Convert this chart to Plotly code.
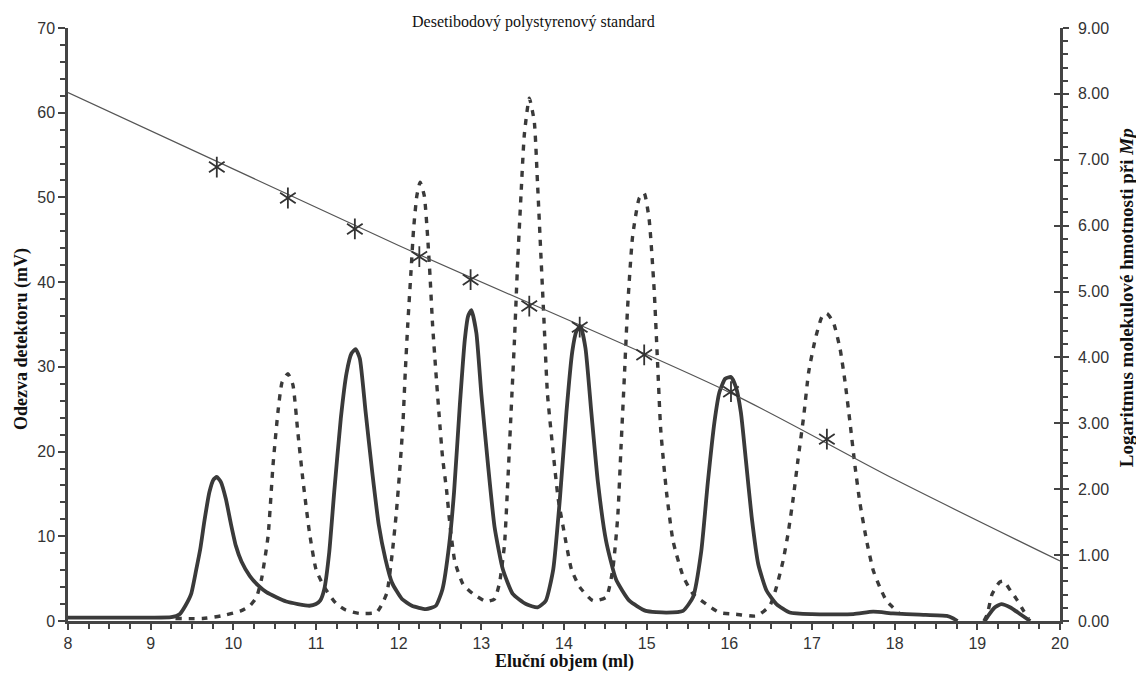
import plotly.graph_objects as go

# Chromatogram of the first half of the ten-point polystyrene standard (solid trace)
solid_ml = [8.0, 8.5, 9.0, 9.25, 9.35, 9.42, 9.49, 9.55, 9.6, 9.65, 9.71, 9.76, 9.8, 9.85,
            9.91, 9.97, 10.03, 10.1, 10.2, 10.3, 10.4, 10.52, 10.64, 10.78, 10.92, 11.0,
            11.05, 11.1, 11.16, 11.22, 11.3, 11.37, 11.43, 11.48, 11.53, 11.6, 11.68, 11.76, 11.84,
            11.92, 12.04, 12.16, 12.33, 12.45, 12.53, 12.61, 12.67, 12.74, 12.8, 12.84, 12.88, 12.94,
            13.0, 13.08, 13.16, 13.26, 13.38, 13.54, 13.68, 13.78, 13.87, 13.95, 14.03, 14.1,
            14.15, 14.2, 14.26, 14.33, 14.41, 14.51, 14.63, 14.79, 14.99, 15.24, 15.44, 15.56, 15.66,
            15.74, 15.82, 15.88, 15.95, 16.02, 16.08, 16.14, 16.2, 16.27, 16.35, 16.45, 16.57, 16.73, 17.0,
            17.5, 17.74, 17.98, 18.3, 18.63, 18.71, 18.76,
            None,
            19.09, 19.13, 19.21, 19.29, 19.4, 19.52, 19.64]
solid_mv = [0.4, 0.4, 0.4, 0.45, 0.8, 1.8, 3.2, 6.0, 8.5, 11.8, 15.2, 16.7, 17.0, 16.4,
            14.4, 11.5, 8.9, 7.0, 5.3, 4.2, 3.4, 2.8, 2.3, 2.0, 1.8, 2.0,
            2.4, 3.75, 8.1, 15.2, 23.9, 29.3, 31.6, 32.1, 31.0, 24.7, 17.6, 11.3, 7.3,
            4.5, 2.6, 1.8, 1.4, 1.8, 3.75, 8.9, 15.2, 25.5, 33.2, 36.0, 36.7, 34.0,
            26.8, 18.5, 11.1, 6.1, 3.2, 2.0, 1.6, 2.4, 6.1, 14.4, 24.7, 31.8,
            34.2, 34.8, 32.2, 24.7, 16.4, 9.4, 4.9, 2.4, 1.2, 1.0, 1.2, 2.8, 8.2,
            16.4, 23.5, 27.0, 28.6, 28.8, 27.6, 24.6, 19.0, 12.3, 6.7, 3.6, 2.0, 1.0, 0.8,
            0.8, 1.1, 0.9, 0.75, 0.6, 0.3, 0.0,
            None,
            0.0, 0.6, 1.6, 2.0, 1.6, 0.8, 0.0]

# Chromatogram of the second half of the standard (dashed trace)
dashed_ml = [9.3, 9.63, 9.85, 10.09, 10.2, 10.28, 10.34, 10.42, 10.48, 10.54, 10.59, 10.66,
             10.72, 10.78, 10.84, 10.92, 11.0, 11.1, 11.24, 11.36, 11.52, 11.73, 11.8, 11.86,
             11.92, 11.97, 12.01, 12.05, 12.08, 12.11, 12.15, 12.18, 12.22, 12.26, 12.31, 12.35,
             12.38, 12.41, 12.45, 12.49, 12.53, 12.58, 12.62, 12.68, 12.78, 12.9, 13.06, 13.16,
             13.22, 13.28, 13.32, 13.36, 13.4, 13.44, 13.48, 13.52, 13.58, 13.64, 13.68, 13.72,
             13.76, 13.8, 13.87, 13.93, 13.99, 14.09, 14.19, 14.35, 14.51, 14.59, 14.65, 14.69,
             14.73, 14.77, 14.83, 14.91, 14.97, 15.03, 15.09, 15.13, 15.17, 15.24, 15.32, 15.44,
             15.56, 15.72, 15.88, 16.08, 16.33, 16.49, 16.57, 16.65, 16.71, 16.77, 16.83, 16.9,
             16.96, 17.04, 17.12, 17.18, 17.26, 17.34, 17.4, 17.46, 17.52, 17.58, 17.66, 17.74,
             17.82, 17.9, 17.98, 18.05,
             None,
             19.08, 19.12, 19.18, 19.27, 19.32, 19.4, 19.48, 19.56, 19.62]
dashed_mv = [0.3, 0.3, 0.6, 1.2, 1.8, 2.8, 4.9, 10.0, 18.4, 24.7, 28.2, 29.2,
             27.9, 22.3, 16.8, 10.5, 6.1, 4.0, 2.1, 1.3, 0.9, 1.0, 2.0, 3.4,
             7.8, 12.6, 17.4, 23.0, 29.4, 35.0, 41.4, 46.2, 50.2, 51.8, 50.2, 45.4,
             40.6, 35.0, 29.4, 24.2, 19.4, 15.4, 11.4, 7.0, 4.3, 3.2, 2.3, 2.6,
             4.5, 9.0, 16.4, 24.7, 33.0, 42.5, 50.3, 57.4, 61.7, 59.0, 51.6, 43.3,
             35.0, 26.8, 19.8, 14.4, 11.1, 6.1, 4.0, 2.4, 2.8, 6.1, 12.3, 20.6,
             28.8, 37.1, 45.4, 49.9, 50.5, 47.4, 39.2, 30.9, 22.6, 15.2, 9.4, 5.3,
             3.2, 2.0, 1.0, 0.8, 0.6, 1.8, 4.0, 7.1, 10.3, 14.3, 19.0, 24.2,
             29.4, 33.3, 35.9, 36.3, 35.2, 32.1, 28.2, 23.4, 18.3, 13.9, 9.5, 6.0,
             4.0, 2.4, 1.6, 1.0,
             None,
             0.0, 0.8, 3.2, 4.6, 4.7, 3.6, 2.5, 1.2, 0.3]

# Peak elution volumes of the ten standards and their log Mp
standard_ml = [9.80, 10.66, 11.47, 12.25, 12.87, 13.58, 14.19, 14.97, 16.02, 17.18]
standard_logmp = [6.89, 6.42, 5.95, 5.53, 5.18, 4.78, 4.46, 4.04, 3.48, 2.76]

# Calibration curve (log Mp vs. elution volume)
fit_ml = [8.0, 12.0, 16.0, 18.0, 20.0]
fit_logmp = [8.02, 5.70, 3.47, 2.15, 0.91]

title_text = "Desetibodový polystyrenový standard"
x_title = "Eluční objem (ml)"
y_title = "Odezva detektoru (mV)"
y2_title = "Logaritmus molekulové hmotnosti při <i>Mp</i>"

INK = "#3a3a3a"
AXIS = "#444444"
SANS = "Liberation Sans, Arial, sans-serif"
SERIF = "Liberation Serif, Times New Roman, serif"

fig = go.Figure()

fig.add_trace(go.Scatter(
    x=fit_ml, y=fit_logmp, yaxis="y2", mode="lines",
    line=dict(color="#555555", width=1.2, shape="spline", smoothing=0.8),
    hoverinfo="skip", showlegend=False))

fig.add_trace(go.Scatter(
    x=dashed_ml, y=dashed_mv, mode="lines", connectgaps=False,
    line=dict(color=INK, width=3.4, dash="6px,7px", shape="spline", smoothing=0.5),
    showlegend=False))

fig.add_trace(go.Scatter(
    x=solid_ml, y=solid_mv, mode="lines", connectgaps=False,
    line=dict(color=INK, width=3.8, shape="spline", smoothing=0.5),
    showlegend=False))

# six-armed asterisk built from two opposing "y" symbols
for sym in ("y-up-open", "y-down-open"):
    fig.add_trace(go.Scatter(
        x=standard_ml, y=standard_logmp, yaxis="y2", mode="markers",
        marker=dict(symbol=sym, size=13, color="#333333",
                    line=dict(color="#333333", width=1.8)),
        showlegend=False))

tickfont = dict(family=SANS, size=16, color="#333333")

fig.update_layout(
    width=1136, height=675,
    margin=dict(l=68, r=76, t=28, b=54),
    plot_bgcolor="white", paper_bgcolor="white",
    xaxis=dict(range=[8, 20], dtick=1, showline=True, linecolor=AXIS, linewidth=2.5,
               ticks="outside", ticklen=6, tickwidth=2, tickcolor=AXIS,
               minor=dict(dtick=0.25, ticks="outside", ticklen=5, tickwidth=2, tickcolor=AXIS),
               showgrid=False, zeroline=False, tickfont=tickfont),
    yaxis=dict(range=[0, 70], dtick=10, showline=True, linecolor=AXIS, linewidth=2.5,
               ticks="outside", ticklen=7, tickwidth=2, tickcolor=AXIS,
               minor=dict(dtick=2, ticks="outside", ticklen=5, tickwidth=2, tickcolor=AXIS),
               showgrid=False, zeroline=False, tickfont=tickfont),
    yaxis2=dict(range=[0, 9], dtick=1, overlaying="y", side="right", anchor="x",
                showline=True, linecolor=AXIS, linewidth=2.5,
                ticks="outside", ticklen=6, tickwidth=2, tickcolor=AXIS,
                minor=dict(dtick=0.2, ticks="outside", ticklen=5, tickwidth=2, tickcolor=AXIS),
                tickformat=".2f", ticklabelstandoff=6,
                showgrid=False, zeroline=False, tickfont=tickfont),
    yaxis3=dict(range=[0, 9], dtick=1, overlaying="y", side="right", anchor="x",
                ticks="inside", ticklen=6, tickwidth=2, tickcolor=AXIS,
                showticklabels=False, showline=False, showgrid=False, zeroline=False),
)

# invisible point so the inner major ticks of the right axis get drawn
fig.add_trace(go.Scatter(x=[8], y=[0], yaxis="y3", mode="markers",
                         marker=dict(opacity=0), hoverinfo="skip", showlegend=False))

fig.add_annotation(text=title_text, xref="paper", yref="paper", x=0.469, y=1.01,
                   xanchor="center", yanchor="middle", showarrow=False,
                   font=dict(family=SERIF, size=16, color="#111111"))
fig.add_annotation(text=f"<b>{x_title}</b>", xref="paper", yref="paper", x=0.5, y=-0.069,
                   xanchor="center", yanchor="middle", showarrow=False,
                   font=dict(family=SERIF, size=18, color="#111111"))
fig.add_annotation(text=f"<b>{y_title}</b>", xref="paper", yref="paper", x=-0.0474, y=0.4755,
                   xanchor="center", yanchor="middle", textangle=-90, showarrow=False,
                   font=dict(family=SERIF, size=18, color="#111111"))
fig.add_annotation(text=f"<b>{y2_title}</b>", xref="paper", yref="paper", x=1.0665, y=0.546,
                   xanchor="center", yanchor="middle", textangle=-90, showarrow=False,
                   font=dict(family=SERIF, size=19, color="#111111"))

fig.write_html("out.html")
